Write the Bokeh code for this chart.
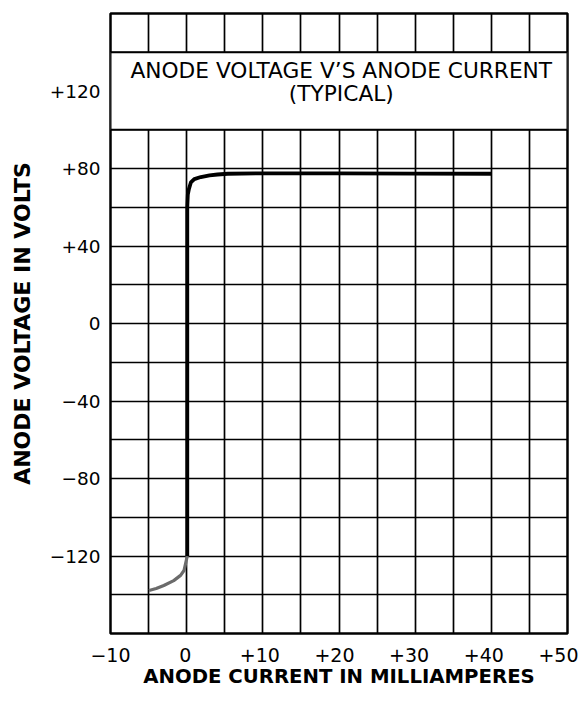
from bokeh.plotting import figure
from bokeh.models import (Range1d, FixedTicker, SingleIntervalTicker, Label)
from bokeh.embed import file_html
from bokeh.resources import INLINE

# ---- data ----
x_ticks = [-10, 0, 10, 20, 30, 40, 50]
x_labels = ["\u221210", "0", "+10", "+20", "+30", "+40", "+50"]
y_ticks = [-120, -80, -40, 0, 40, 80, 120]
y_labels = ["\u2212120", "\u221280", "\u221240", "0", "+40", "+80", "+120"]

# reverse-current tail (grey)
tail_current = [-4.95, -4.0, -3.0, -1.7, -0.8, -0.35, 0.08]
tail_voltage = [-137.8, -136.8, -135.2, -132.7, -130.0, -127.5, -120.0]
# main characteristic (black)
main_current = [0.08, 0.08, 0.08, 0.15, 0.3, 0.55, 1.0, 1.86, 3.0, 4.05, 5.4, 10, 20, 30, 40]
main_voltage = [-120, 0, 60, 66.5, 69.5, 72.8, 74.5, 75.6, 76.4, 76.9, 77.3, 77.5, 77.5, 77.4, 77.3]

title_lines = ["ANODE VOLTAGE V\u2019S ANODE CURRENT", "(TYPICAL)"]
x_title = "ANODE CURRENT IN MILLIAMPERES"
y_title = "ANODE VOLTAGE IN VOLTS"

FONT = "DejaVu Sans"

X0, X1 = -10, 50
W, H = 578, 701
BL, BR = 110, 11
p = figure(width=W, height=H, x_range=Range1d(X0, X1), y_range=Range1d(-160, 160),
           output_backend="svg", toolbar_location=None,
           min_border_left=BL, min_border_right=BR, min_border_top=13, min_border_bottom=68)
p.background_fill_color = "white"
p.border_fill_color = "white"
p.outline_line_color = "black"
p.outline_line_width = 2.5

# the printed x tick labels drift slightly left of their ticks (the "+" hangs):
# a label range whose far end is pulled in by a few pixels
px_per_unit = (W - BL - BR) / (X1 - X0)
pull = 9.0 / px_per_unit
span = (X1 - X0) * (X1 - X0) / ((X1 - X0) - pull)
p.extra_x_ranges = {"ticklab": Range1d(X0 - 0.001, X0 + span)}

# grid
p.xgrid.ticker = SingleIntervalTicker(interval=5)
p.ygrid.ticker = SingleIntervalTicker(interval=20)
for g in (p.xgrid, p.ygrid):
    g.grid_line_color = "black"
    g.grid_line_width = 1.7
    g.grid_line_alpha = 1.0

# y axis
p.yaxis.ticker = FixedTicker(ticks=y_ticks)
p.yaxis.major_label_overrides = dict(zip(y_ticks, y_labels))
p.yaxis.major_label_text_font = FONT
p.yaxis.major_label_text_font_size = "18.5px"
p.yaxis.major_label_text_color = "black"
p.yaxis.major_label_standoff = 10
p.yaxis.axis_label = y_title
p.yaxis.axis_label_text_font = FONT
p.yaxis.axis_label_text_font_style = "bold"
p.yaxis.axis_label_text_font_size = "22px"
p.yaxis.axis_label_text_color = "black"
p.yaxis.axis_label_standoff = 12

# x axis
xa = p.xaxis[0]
xa.x_range_name = "ticklab"
xa.ticker = FixedTicker(ticks=x_ticks)
xa.major_label_overrides = dict(zip(x_ticks, x_labels))
xa.major_label_text_font = FONT
xa.major_label_text_font_size = "19px"
xa.major_label_text_color = "black"
xa.major_label_standoff = 14
xa.axis_label = x_title
xa.axis_label_text_font = FONT
xa.axis_label_text_font_style = "bold"
xa.axis_label_text_font_size = "19.7px"
xa.axis_label_text_color = "black"
xa.axis_label_standoff = 0

for ax in (p.xaxis, p.yaxis):
    ax.axis_line_color = None
    ax.major_tick_in = 0
    ax.major_tick_out = 0
    ax.minor_tick_in = 0
    ax.minor_tick_out = 0

# title box
p.quad(left=[X0], right=[X1], bottom=[100], top=[140], fill_color="white",
       line_color="black", line_width=2)
for txt, yy in zip(title_lines, [130.8, 118.5]):
    p.add_layout(Label(x=20.3, y=yy, text=txt, text_align="center", text_baseline="middle",
                       text_font=FONT, text_font_size="21.7px", text_color="black"))

# curves
p.line(tail_current, tail_voltage, line_color="#6b6b6b", line_width=3.2)
p.line(main_current, main_voltage, line_color="black", line_width=3.8, line_join="round")

open("out.html", "w").write(file_html(p, INLINE))
